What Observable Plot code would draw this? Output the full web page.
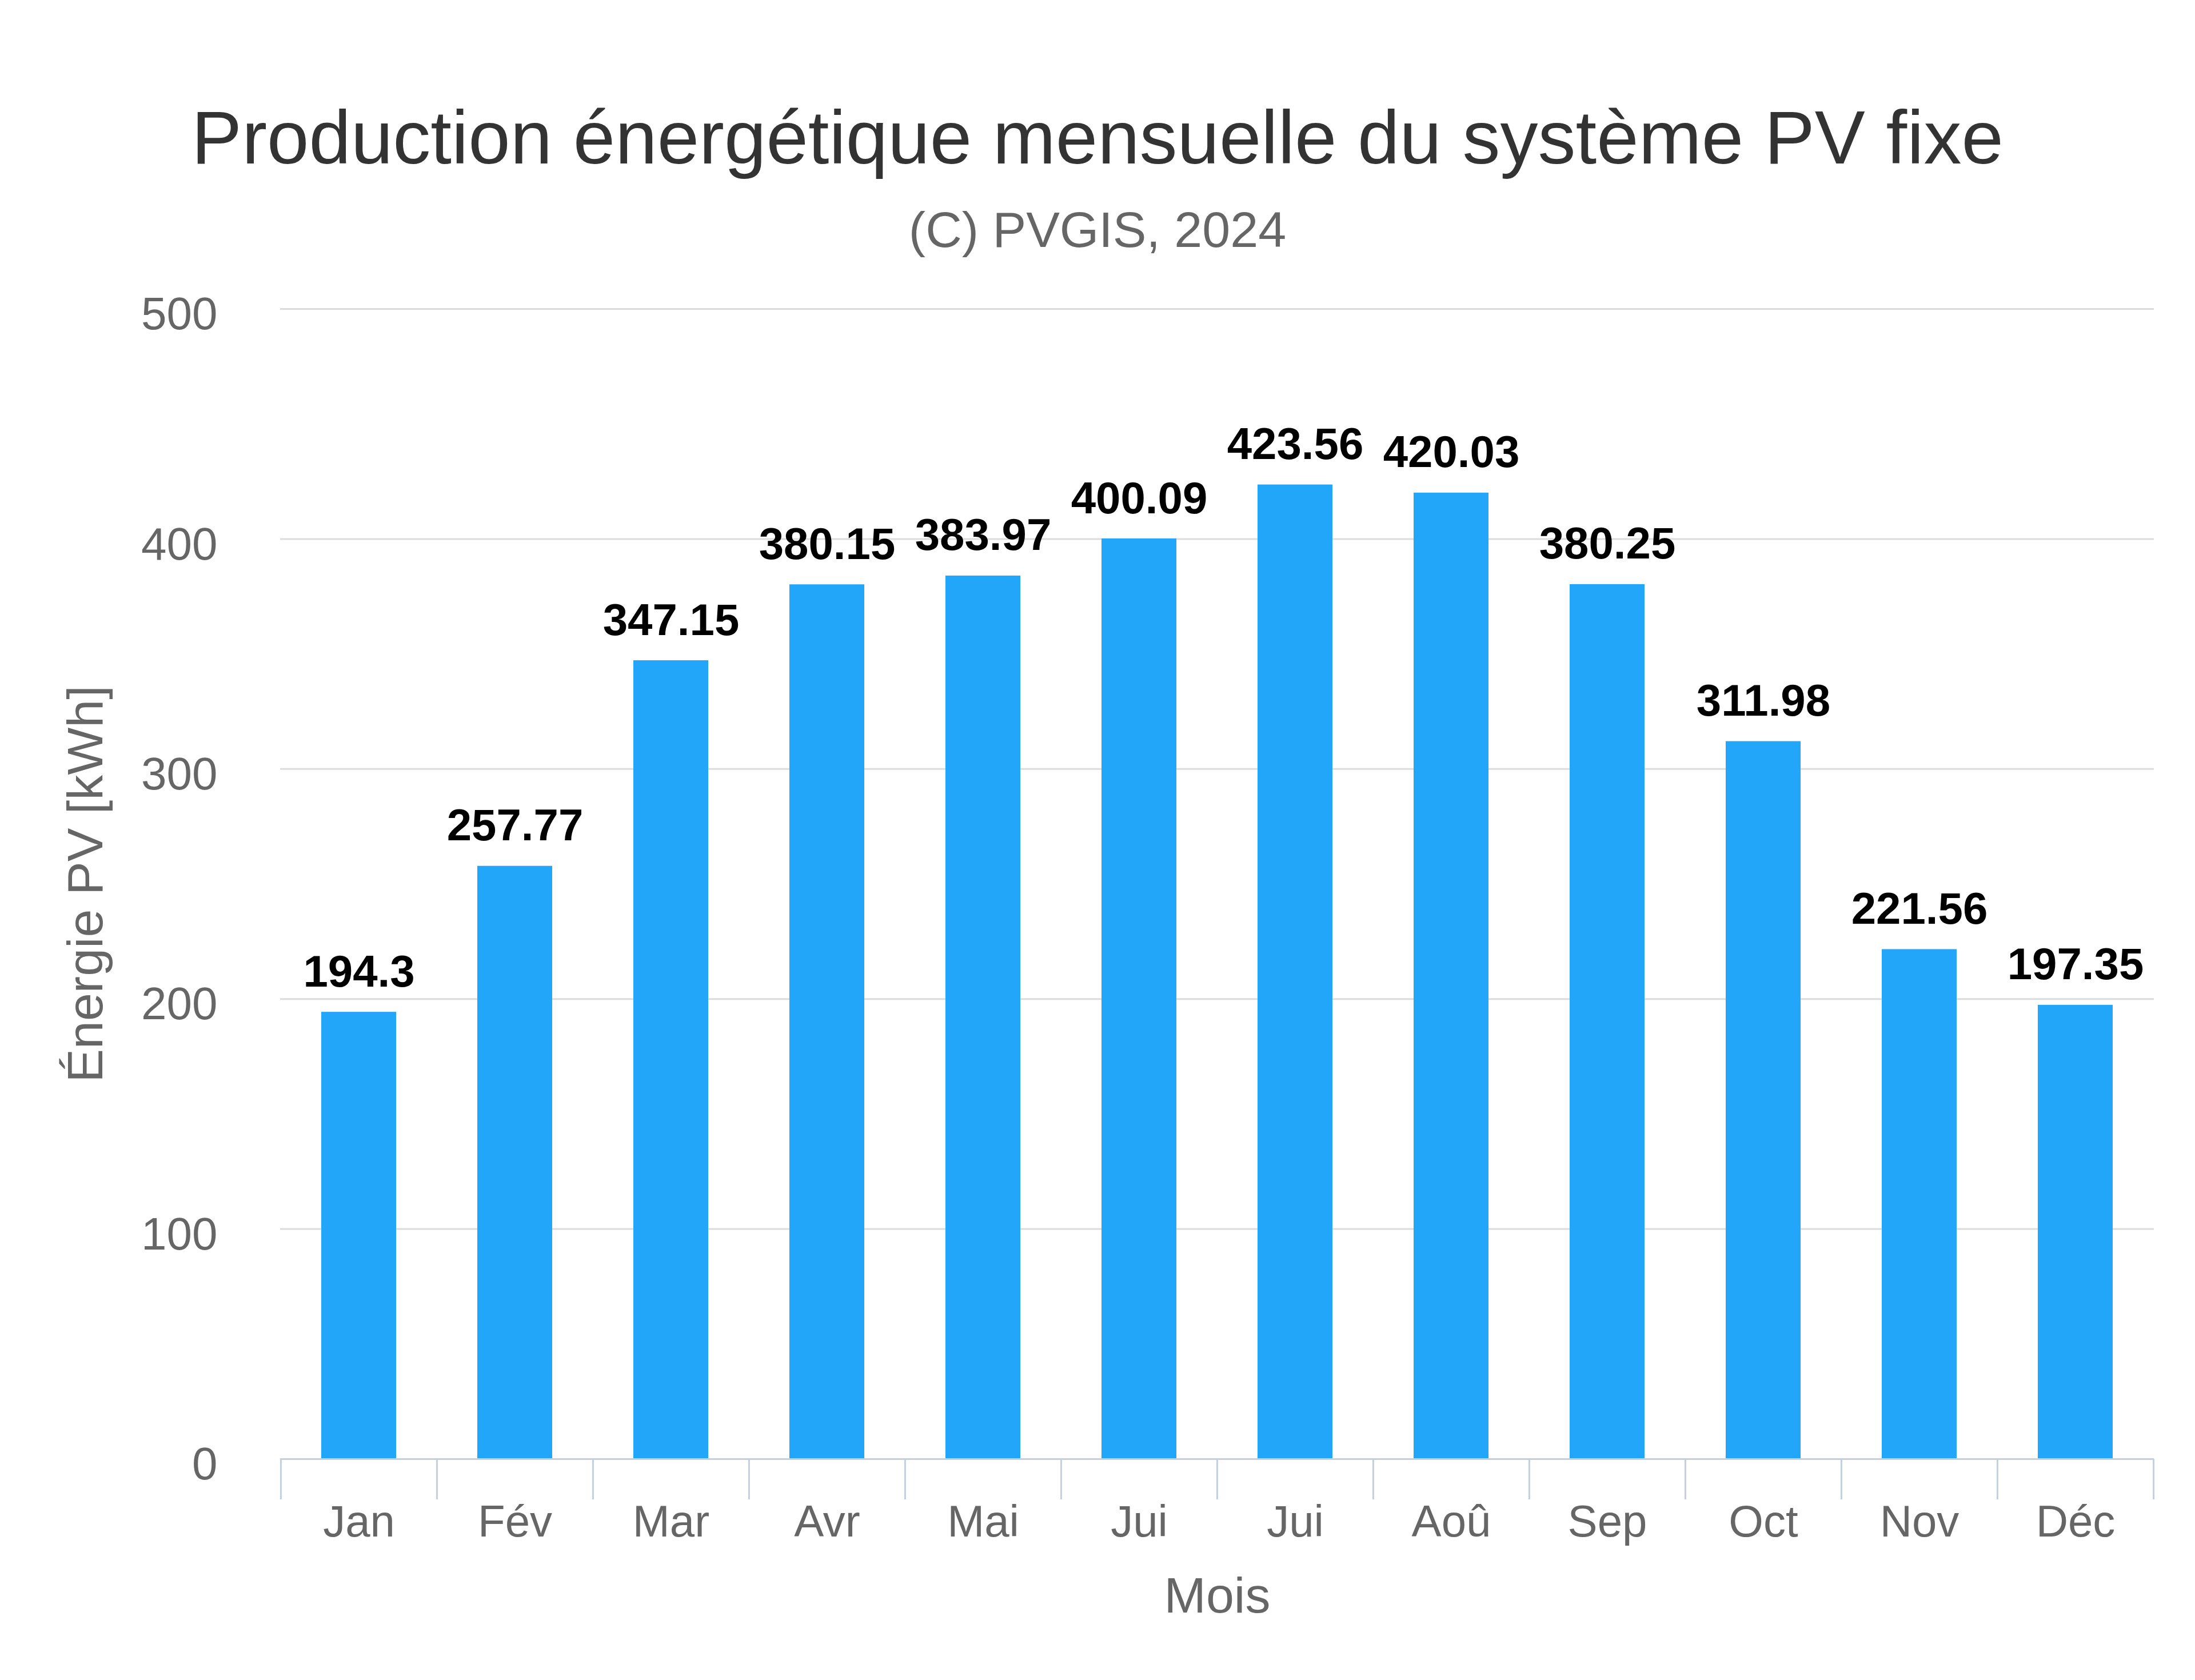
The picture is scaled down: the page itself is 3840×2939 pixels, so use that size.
<!DOCTYPE html>
<html><head><meta charset="utf-8">
<script src="https://cdn.jsdelivr.net/npm/d3@7"></script>
<script src="https://cdn.jsdelivr.net/npm/@observablehq/plot@0.6"></script>
<style>
html,body{margin:0;padding:0;background:#fff;}
#wrap{position:relative;width:3840px;height:2939px;font-family:"Liberation Sans",Arial,sans-serif;background:#fff;}
#title{position:absolute;left:0;top:175px;width:3840px;text-align:center;font-size:132px;line-height:132px;color:#333;white-space:nowrap;}
#subtitle{position:absolute;left:0;top:358px;width:3840px;text-align:center;font-size:88px;line-height:88px;color:#666;white-space:nowrap;}
#chart{position:absolute;left:0;top:470px;}
</style></head>
<body>
<div id="wrap">
  <div id="title">Production énergétique mensuelle du système PV fixe</div>
  <div id="subtitle">(C) PVGIS, 2024</div>
  <div id="chart"></div>
</div>
<script>
const months = ["Jan", "Fév", "Mar", "Avr", "Mai", "Jui", "Jui", "Aoû", "Sep", "Oct", "Nov", "Déc"];
const energy = [194.3, 257.77, 347.15, 380.15, 383.97, 400.09, 423.56, 420.03, 380.25, 311.98, 221.56, 197.35];
const yTicks = [0, 100, 200, 300, 400, 500];
const xTitle = "Mois";
const yTitle = "Énergie PV [kWh]";

const W = 3840, H = 2469, mL = 490, mR = 72, mT = 70, mB = 387;
const step = (W - mL - mR) / months.length;
const data = months.map((m, i) => ({i, month: m, value: energy[i]}));
const font = "'Liberation Sans', Arial, sans-serif";

const chart = Plot.plot({
  width: W, height: H,
  marginLeft: mL, marginRight: mR, marginTop: mT, marginBottom: mB,
  style: {fontFamily: font, fontSize: "78px", color: "#666", background: "#fff", overflow: "visible"},
  x: {type: "band", domain: d3.range(months.length), paddingInner: 0.52, paddingOuter: 0.26},
  y: {domain: [0, 500]},
  marks: [
    Plot.gridY(yTicks.filter(t => t > 0), {stroke: "#dcdcdc", strokeOpacity: 1, strokeWidth: 3}),
    Plot.barY(data, {x: "i", y: "value", fill: "#22a6fa"}),
    Plot.ruleY([0], {stroke: "#c4d0de", strokeWidth: 3}),
    Plot.ruleX(data, {x: "i", dx: -step / 2, insetTop: H - mT - mB, insetBottom: -71, stroke: "#c4d0de", strokeWidth: 3}),
    Plot.ruleX([data[data.length - 1]], {x: "i", dx: step / 2, insetTop: H - mT - mB, insetBottom: -71, stroke: "#c4d0de", strokeWidth: 3}),
    Plot.axisY(yTicks, {tickSize: 0, tickPadding: 110, fontSize: 80, fill: "#666", dy: 10, label: null}),
    Plot.axisX({tickSize: 0, tickPadding: 80, tickFormat: i => months[i], fontSize: 78, fill: "#666", label: null}),
    Plot.text(data, {x: "i", y: "value", text: d => String(d.value), lineAnchor: "bottom", dy: -45, fontSize: 78, fontWeight: "bold", fill: "#000"}),
    Plot.text([xTitle], {text: d => d, frameAnchor: "bottom", dy: 268, lineAnchor: "bottom", fontSize: 88, fill: "#666"}),
    Plot.text([yTitle], {text: d => d, frameAnchor: "left", dx: -312, rotate: -90, lineAnchor: "bottom", textAnchor: "middle", fontSize: 88, fill: "#666"})
  ]
});
document.getElementById("chart").appendChild(chart);
</script>
</body></html>
